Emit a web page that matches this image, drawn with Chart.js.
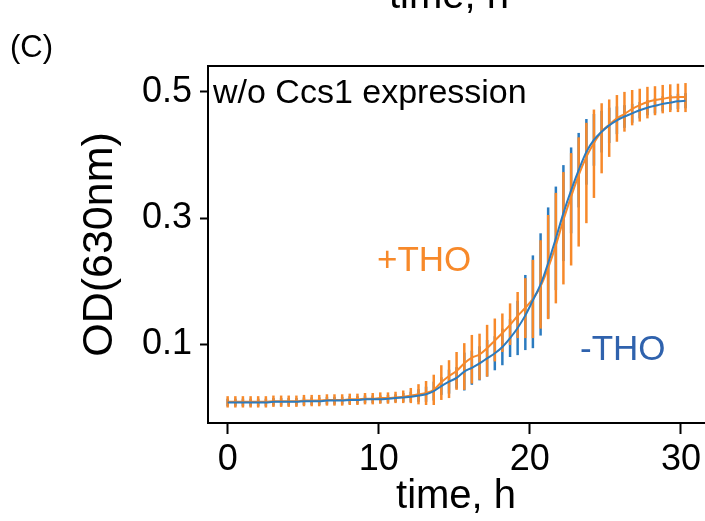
<!DOCTYPE html>
<html>
<head>
<meta charset="utf-8">
<script src="https://cdn.jsdelivr.net/npm/chart.js@4.4.1/dist/chart.umd.min.js"></script>
<style>
  html, body { margin: 0; padding: 0; background: #fff; }
  #holder { width: 705px; height: 521px; }
</style>
</head>
<body>
<div id="holder"><canvas id="growth" width="705" height="521"></canvas></div>
<script>
// time points (h)
var times = [0, 0.51, 1.01, 1.52, 2.02, 2.53, 3.03, 3.54, 4.04, 4.55, 5.05, 5.56, 6.06, 6.57, 7.07, 7.58,
  8.08, 8.59, 9.09, 9.6, 10.1, 10.61, 11.11, 11.62, 12.12, 12.63, 13.13, 13.64, 14.14, 14.65, 15.15, 15.66,
  16.16, 16.67, 17.17, 17.68, 18.18, 18.69, 19.19, 19.7, 20.2, 20.71, 21.21, 21.72, 22.22, 22.73, 23.23,
  23.74, 24.24, 24.75, 25.25, 25.76, 26.26, 26.77, 27.27, 27.78, 28.28, 28.79, 29.29, 29.8, 30.3];

// +THO (orange): mean and error bar ends
var plusMean = [0.009, 0.009, 0.009, 0.009, 0.009, 0.009, 0.010, 0.010, 0.010, 0.010, 0.011, 0.011, 0.011,
  0.012, 0.012, 0.012, 0.013, 0.013, 0.014, 0.014, 0.015, 0.015, 0.016, 0.017, 0.019, 0.021, 0.023, 0.028,
  0.040, 0.050, 0.058, 0.070, 0.079, 0.084, 0.094, 0.106, 0.118, 0.131, 0.145, 0.158, 0.172, 0.192, 0.221,
  0.257, 0.297, 0.334, 0.368, 0.397, 0.419, 0.437, 0.448, 0.458, 0.465, 0.473, 0.479, 0.484, 0.487, 0.489,
  0.491, 0.492, 0.492];
var plusLo = [0.000, 0.000, 0.000, 0.000, 0.000, 0.000, 0.001, 0.001, 0.001, 0.001, 0.002, 0.002, 0.002,
  0.003, 0.003, 0.003, 0.004, 0.004, 0.005, 0.005, 0.006, 0.006, 0.007, 0.007, 0.007, 0.005, 0.004, 0.004,
  0.012, 0.015, 0.028, 0.028, 0.038, 0.044, 0.049, 0.073, 0.088, 0.099, 0.110, 0.110, 0.110, 0.125, 0.140,
  0.165, 0.195, 0.225, 0.255, 0.292, 0.332, 0.371, 0.397, 0.421, 0.437, 0.447, 0.453, 0.458, 0.463, 0.466,
  0.468, 0.468, 0.468];
var plusHi = [0.018, 0.018, 0.018, 0.018, 0.018, 0.018, 0.019, 0.019, 0.019, 0.019, 0.020, 0.020, 0.020,
  0.021, 0.021, 0.021, 0.022, 0.022, 0.023, 0.023, 0.024, 0.024, 0.025, 0.027, 0.031, 0.037, 0.042, 0.052,
  0.067, 0.075, 0.088, 0.102, 0.115, 0.117, 0.131, 0.141, 0.149, 0.165, 0.183, 0.205, 0.234, 0.265, 0.305,
  0.340, 0.373, 0.403, 0.428, 0.451, 0.472, 0.482, 0.488, 0.495, 0.500, 0.503, 0.505, 0.508, 0.509, 0.511,
  0.512, 0.513, 0.514];

// -THO (blue)
var minusMean = [0.008, 0.008, 0.008, 0.008, 0.008, 0.008, 0.009, 0.009, 0.009, 0.009, 0.010, 0.010, 0.010,
  0.011, 0.011, 0.011, 0.012, 0.012, 0.013, 0.013, 0.013, 0.014, 0.015, 0.016, 0.017, 0.019, 0.021, 0.026,
  0.034, 0.041, 0.047, 0.057, 0.063, 0.070, 0.078, 0.086, 0.096, 0.110, 0.126, 0.146, 0.170, 0.195, 0.229,
  0.268, 0.308, 0.344, 0.376, 0.405, 0.424, 0.437, 0.447, 0.455, 0.461, 0.466, 0.471, 0.475, 0.478, 0.481,
  0.483, 0.485, 0.486];
var minusLo = [0.002, 0.002, 0.002, 0.002, 0.002, 0.002, 0.003, 0.003, 0.003, 0.003, 0.004, 0.004, 0.004,
  0.005, 0.005, 0.005, 0.006, 0.006, 0.007, 0.007, 0.007, 0.008, 0.009, 0.009, 0.009, 0.009, 0.009, 0.011,
  0.020, 0.022, 0.030, 0.027, 0.036, 0.043, 0.049, 0.059, 0.067, 0.080, 0.083, 0.091, 0.094, 0.114, 0.141,
  0.186, 0.232, 0.276, 0.317, 0.353, 0.383, 0.404, 0.419, 0.433, 0.443, 0.451, 0.458, 0.463, 0.466, 0.469,
  0.471, 0.473, 0.474];
var minusHi = [0.014, 0.014, 0.014, 0.014, 0.014, 0.014, 0.015, 0.015, 0.015, 0.015, 0.016, 0.016, 0.016,
  0.017, 0.017, 0.017, 0.018, 0.018, 0.019, 0.019, 0.019, 0.020, 0.021, 0.023, 0.025, 0.029, 0.033, 0.041,
  0.048, 0.060, 0.064, 0.087, 0.090, 0.097, 0.107, 0.113, 0.125, 0.140, 0.169, 0.210, 0.241, 0.276, 0.317,
  0.350, 0.384, 0.412, 0.435, 0.457, 0.465, 0.470, 0.475, 0.477, 0.479, 0.481, 0.484, 0.487, 0.490, 0.493,
  0.495, 0.497, 0.498];

var xTicks = [0, 10, 20, 30];
var yTicks = [0.1, 0.3, 0.5];

var ORANGE = '#f7892a';
var BLUE = '#2b7bbf';
var FONT = '"Liberation Sans", Arial, sans-serif';

function pts(ys) {
  return times.map(function(t, i) { return { x: t, y: ys[i] }; });
}

// error bars go under the lines, frame top + labels on top
var extras = {
  id: 'extras',
  beforeDatasetsDraw: function(chart) {
    var ctx = chart.ctx, xs = chart.scales.x, ys = chart.scales.y, a = chart.chartArea;
    ctx.save();
    ctx.beginPath();
    ctx.rect(a.left, a.top, a.right - a.left, a.bottom - a.top);
    ctx.clip();
    ctx.lineWidth = 2.5;
    [[minusLo, minusHi, BLUE], [plusLo, plusHi, ORANGE]].forEach(function(s) {
      ctx.strokeStyle = s[2];
      for (var i = 0; i < times.length; i++) {
        var px = xs.getPixelForValue(times[i]);
        ctx.beginPath();
        ctx.moveTo(px, ys.getPixelForValue(s[0][i]));
        ctx.lineTo(px, ys.getPixelForValue(s[1][i]));
        ctx.stroke();
      }
    });
    ctx.restore();
  },
  afterDraw: function(chart) {
    var ctx = chart.ctx, a = chart.chartArea;
    ctx.save();
    ctx.strokeStyle = '#000';
    ctx.lineWidth = 2;
    ctx.beginPath();
    ctx.moveTo(a.left - 1, a.top);
    ctx.lineTo(a.right, a.top);
    ctx.stroke();

    ctx.textBaseline = 'alphabetic';
    ctx.textAlign = 'left';
    ctx.fillStyle = '#000';
    ctx.font = '31px ' + FONT;
    ctx.fillText('(C)', 10, 57);
    ctx.textAlign = 'center';
    ctx.font = '40px ' + FONT;
    ctx.fillText('time, h', 449, 8);
    ctx.textAlign = 'left';
    ctx.font = '34px ' + FONT;
    ctx.fillText('w/o Ccs1 expression', 213, 103);
    ctx.fillStyle = ORANGE;
    ctx.font = '35px ' + FONT;
    ctx.fillText('+THO', 377, 271);
    ctx.fillStyle = '#2f62ad';
    ctx.fillText('-THO', 580, 360);
    ctx.restore();
  }
};

new Chart(document.getElementById('growth'), {
  type: 'line',
  data: {
    datasets: [{
      label: '-THO',
      data: pts(minusMean),
      borderColor: BLUE,
      borderWidth: 2,
      pointRadius: 0,
      cubicInterpolationMode: 'monotone'
    }, {
      label: '+THO',
      data: pts(plusMean),
      borderColor: ORANGE,
      borderWidth: 2,
      pointRadius: 0,
      cubicInterpolationMode: 'monotone'
    }]
  },
  options: {
    responsive: false,
    animation: false,
    devicePixelRatio: 1,
    layout: { padding: { top: 66, right: 0, left: 0, bottom: 0 } },
    plugins: { legend: { display: false }, tooltip: { enabled: false } },
    scales: {
      x: {
        type: 'linear',
        min: -1.3,
        max: 31.53,
        afterBuildTicks: function(s) { s.ticks = xTicks.map(function(v) { return { value: v }; }); },
        afterFit: function(s) { s.height = 98; },
        grid: { drawOnChartArea: false, drawTicks: true, tickLength: 11, tickWidth: 2, tickColor: '#000' },
        border: { display: true, color: '#000', width: 2 },
        ticks: { color: '#000', font: { size: 36, family: FONT }, padding: 4, maxRotation: 0 },
        title: { display: true, text: 'time, h', color: '#000', font: { size: 40, family: FONT }, padding: { top: 0, bottom: 0 } }
      },
      y: {
        min: -0.0245,
        max: 0.541,
        afterBuildTicks: function(s) { s.ticks = yTicks.map(function(v) { return { value: v }; }); },
        afterFit: function(s) { s.width = 208; },
        grid: { drawOnChartArea: false, drawTicks: true, tickLength: 8, tickWidth: 2, tickColor: '#000' },
        border: { display: true, color: '#000', width: 2 },
        ticks: { color: '#000', font: { size: 36, family: FONT }, padding: 8,
          callback: function(v) { return v.toFixed(1); } },
        title: { display: true, text: 'OD(630nm)', color: '#000', font: { size: 43, family: FONT }, padding: { top: 74, bottom: 0 } }
      }
    }
  },
  plugins: [extras]
});
</script>
</body>
</html>
